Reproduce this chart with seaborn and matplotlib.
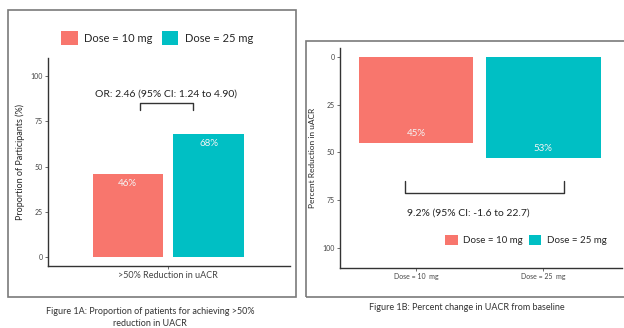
import matplotlib
matplotlib.use("Agg")
import pandas as pd
import matplotlib.pyplot as plt
import seaborn as sns
from matplotlib.patches import Rectangle

doses = ["Dose = 10 mg", "Dose = 25 mg"]
colors = ["#F8766D", "#00BFC4"]

# Figure 1A - proportion achieving >50% reduction
resp_cat = [">50% Reduction in uACR"]
resp_pct = [46, 68]
or_text = "OR: 2.46 (95% CI: 1.24 to 4.90)"

# Figure 1B - percent reduction in uACR
red_cats = ["Dose = 10  mg", "Dose = 25  mg"]
red_pct = [45, 53]
diff_text = "9.2% (95% CI: -1.6 to 22.7)"

sns.set_theme(style="ticks")
plt.rcParams["font.family"] = ["Lato", "DejaVu Sans"]

fig = plt.figure(figsize=(6.24, 3.28), dpi=100)
ax1 = fig.add_axes([0.077, 0.189, 0.388, 0.634])
ax2 = fig.add_axes([0.545, 0.183, 0.452, 0.671])

# panel borders (scanned figure boxes)
fig.add_artist(Rectangle((8 / 624, 1 - 297 / 328), 288 / 624, 287 / 328,
                         transform=fig.transFigure, fill=False, ec="#7a7a7a", lw=1.2))
fig.add_artist(Rectangle((306 / 624, 1 - 297 / 328), 330 / 624, 256 / 328,
                         transform=fig.transFigure, fill=False, ec="#7a7a7a", lw=1.2))

# ---- left panel
dfa = pd.DataFrame({"cat": resp_cat * 2, "dose": doses, "pct": resp_pct})
sns.barplot(dfa, x="cat", y="pct", hue="dose", palette=colors, width=0.86, gap=0.13,
            saturation=1, linewidth=0, ax=ax1)
ax1.set_ylim(-5, 110)
ax1.set_xlim(-0.64, 0.65)
ax1.set_yticks([0, 25, 50, 75, 100])
ax1.set_xlabel("")
ax1.set_ylabel("Proportion of Participants (%)", fontsize=6.5, labelpad=4)
for c, v in zip(ax1.containers, resp_pct):
    ax1.bar_label(c, labels=[f"{v}%"], padding=-10, color="#f4f4f4", fontsize=7)
h, l = ax1.get_legend_handles_labels()
ax1.legend(h, l, ncol=2, loc="center", bbox_to_anchor=(0.252, 0.884),
           bbox_transform=fig.transFigure, frameon=False, fontsize=8,
           handlelength=1.5, handleheight=1.5, handletextpad=0.6, columnspacing=0.8)

bx = [-0.15, -0.15, 0.13, 0.13]
by = [81, 85, 85, 81]
ax1.plot(bx, by, color="#333333", lw=1)
ax1.text(-0.01, 90, or_text, ha="center", va="center", fontsize=7.5, color="#222222")

# ---- right panel
dfb = pd.DataFrame({"cat": red_cats, "dose": doses, "pct": red_pct})
sns.barplot(dfb, x="cat", y="pct", hue="dose", palette=colors, dodge=False, width=0.9,
            saturation=1, linewidth=0, ax=ax2)
ax2.set_ylim(110.5, -4.7)
ax2.set_xlim(-0.6, 1.62)
ax2.set_yticks([0, 25, 50, 75, 100])
ax2.set_xlabel("")
ax2.set_ylabel("Percent Reduction in uACR", fontsize=6, labelpad=5)
for c, v in zip(ax2.containers, red_pct):
    ax2.bar_label(c, labels=[f"{v}%"], padding=-10, color="#f4f4f4", fontsize=7)
h, l = ax2.get_legend_handles_labels()
ax2.legend(h, l, ncol=2, loc="center", bbox_to_anchor=(0.843, 0.268),
           bbox_transform=fig.transFigure, frameon=False, fontsize=7,
           handlelength=1.25, handleheight=1.25, handletextpad=0.6, columnspacing=0.6)

bx2 = [-0.09, -0.09, 1.16, 1.16]
by2 = [65, 71, 71, 65]
ax2.plot(bx2, by2, color="#333333", lw=1)
ax2.text(0.41, 82, diff_text, ha="center", va="center", fontsize=7.5, color="#222222")

for ax in (ax1, ax2):
    sns.despine(ax=ax)
    for s in ("left", "bottom"):
        ax.spines[s].set_linewidth(1)
        ax.spines[s].set_color("#333333")
    ax.tick_params(labelsize=5, length=2, width=0.6, color="#555555", labelcolor="#444444", pad=1.5)
ax1.tick_params(axis="x", labelsize=6.5)

fig.text(150 / 624, 1 - 311 / 328, "Figure 1A: Proportion of patients for achieving >50%",
         ha="center", va="center", fontsize=6.5, color="#333333")
fig.text(150 / 624, 1 - 323 / 328, "reduction in UACR",
         ha="center", va="center", fontsize=6.5, color="#333333")
fig.text(467 / 624, 1 - 308 / 328, "Figure 1B: Percent change in UACR from baseline",
         ha="center", va="center", fontsize=6.5, color="#333333")

fig.savefig("out.png", dpi=100, facecolor="white")
